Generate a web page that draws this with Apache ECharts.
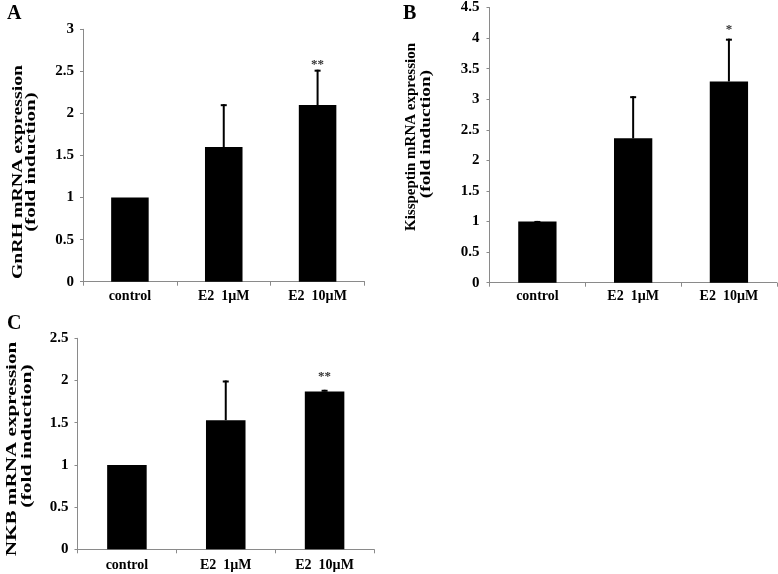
<!DOCTYPE html>
<html>
<head>
<meta charset="utf-8">
<script src="https://cdn.jsdelivr.net/npm/echarts@6/dist/echarts.min.js"></script>
<style>html,body{margin:0;padding:0;background:#fff}#c{width:778px;height:574px}</style>
</head>
<body>
<div id="c"></div>
<script>
// ---- data ----
const categories = ['control', 'E2  1\u00B5M', 'E2  10\u00B5M'];
const gnrhMean = [1.0, 1.6, 2.1];
const gnrhErr = [0, 0.51, 0.42];
const gnrhSig = ['', '', '**'];
const kissMean = [1.0, 2.36, 3.29];
const kissErr = [0.01, 0.69, 0.70];
const kissSig = ['', '', '*'];
const nkbMean = [1.0, 1.53, 1.87];
const nkbErr = [0, 0.47, 0.02];
const nkbSig = ['', '', '**'];
const yMaxA = 3, yMaxB = 4.5, yMaxC = 2.5, yStep = 0.5;
const panelLetters = ['A', 'B', 'C'];
const titleLinesA = ['GnRH mRNA expression', '(fold induction)'];
const titleLinesB = ['Kisspeptin mRNA expression', '(fold induction)'];
const titleLinesC = ['NKB mRNA expression', '(fold induction)'];

const FONT = '"Liberation Serif","Times New Roman",serif';
const AXIS_COLOR = '#8a8a8a';

const grids = [
  {left: 83, top: 29.3, width: 281.5, height: 252.4},
  {left: 489.5, top: 7.3, width: 287.3, height: 275.4},
  {left: 77.5, top: 338.3, width: 296.5, height: 211}
];
const xMargins = [8, 7, 9];
const yMargins = [9, 10, 9];
const starGap = [5, 9, 13];

function xAxisFor(i) {
  return {
    type: 'category', gridIndex: i, data: categories,
    axisLine: {lineStyle: {color: AXIS_COLOR, width: 1}},
    axisTick: {show: true, length: 4, lineStyle: {color: AXIS_COLOR}},
    axisLabel: {color: '#000', fontFamily: FONT, fontWeight: 'bold', fontSize: 14, margin: xMargins[i]},
    splitLine: {show: false}
  };
}
function yAxisFor(i, max) {
  return {
    type: 'value', gridIndex: i, min: 0, max: max, interval: yStep,
    axisLine: {show: true, lineStyle: {color: AXIS_COLOR, width: 1}},
    axisTick: {show: true, length: 3, lineStyle: {color: AXIS_COLOR}},
    axisLabel: {color: '#000', fontFamily: FONT, fontWeight: 'bold', fontSize: 15, margin: yMargins[i]},
    splitLine: {show: false}
  };
}
function barSeries(i, mean) {
  return {
    type: 'bar', xAxisIndex: i, yAxisIndex: i, data: mean, barWidth: '40%',
    itemStyle: {color: '#000'}, silent: true
  };
}
function errSeries(i, mean, err, sig) {
  return {
    type: 'custom', xAxisIndex: i, yAxisIndex: i, silent: true, z: 5,
    data: mean.map((m, k) => [k, m, m + err[k]]),
    renderItem: function (params, api) {
      const k = api.value(0);
      const base = api.coord([k, api.value(1)]);
      const top = api.coord([k, api.value(2)]);
      const children = [];
      if (base[1] - top[1] > 0.3) {
        children.push({type: 'line', shape: {x1: top[0], y1: base[1], x2: top[0], y2: top[1]},
          style: {stroke: '#000', lineWidth: 2}});
        children.push({type: 'line', shape: {x1: top[0] - 3, y1: top[1] + 1, x2: top[0] + 3, y2: top[1] + 1},
          style: {stroke: '#000', lineWidth: 2}});
      }
      const s = sig[params.dataIndex];
      if (s) {
        children.push({type: 'text', x: top[0], y: top[1] - starGap[i],
          style: {text: s, fill: '#333', font: 'bold 13px ' + FONT, textAlign: 'center', textVerticalAlign: 'middle'}});
      }
      return {type: 'group', children: children};
    }
  };
}
function titleText(text, x, y, scale) {
  return {type: 'text', x: x, y: y, rotation: Math.PI / 2, scaleX: scale,
    style: {text: text, fill: '#000', font: 'bold 15px ' + FONT, textAlign: 'center', textVerticalAlign: 'middle'}};
}

const chart = echarts.init(document.getElementById('c'), null, {renderer: 'canvas'});
chart.setOption({
  animation: false,
  backgroundColor: '#fff',
  title: [
    {text: panelLetters[0], left: 7, top: 4, padding: 0, textStyle: {fontFamily: FONT, fontWeight: 'bold', fontSize: 20, color: '#000'}},
    {text: panelLetters[1], left: 403, top: 4, padding: 0, textStyle: {fontFamily: FONT, fontWeight: 'bold', fontSize: 20, color: '#000'}},
    {text: panelLetters[2], left: 7, top: 314, padding: 0, textStyle: {fontFamily: FONT, fontWeight: 'bold', fontSize: 20, color: '#000'}}
  ],
  grid: grids,
  xAxis: [xAxisFor(0), xAxisFor(1), xAxisFor(2)],
  yAxis: [yAxisFor(0, yMaxA), yAxisFor(1, yMaxB), yAxisFor(2, yMaxC)],
  series: [
    barSeries(0, gnrhMean), barSeries(1, kissMean), barSeries(2, nkbMean),
    errSeries(0, gnrhMean, gnrhErr, gnrhSig),
    errSeries(1, kissMean, kissErr, kissSig),
    errSeries(2, nkbMean, nkbErr, nkbSig)
  ],
  graphic: [
    titleText(titleLinesA[0], 18.5, 172, 1.32),
    titleText(titleLinesA[1], 31, 162, 1.4),
    titleText(titleLinesB[0], 411.5, 137, 1.0),
    titleText(titleLinesB[1], 426, 134, 1.29),
    titleText(titleLinesC[0], 12.5, 449, 1.41),
    titleText(titleLinesC[1], 27.5, 436, 1.44)
  ]
});
</script>
</body>
</html>
